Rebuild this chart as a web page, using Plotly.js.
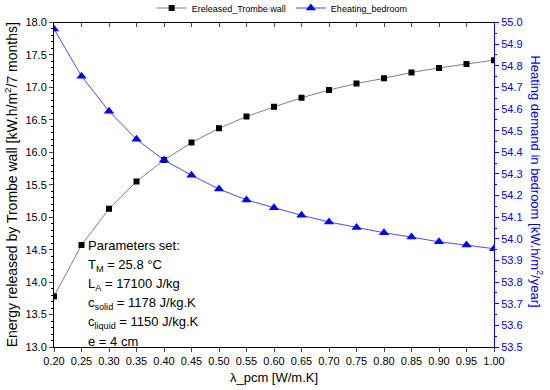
<!DOCTYPE html>
<html><head><meta charset="utf-8">
<script src="https://cdn.plot.ly/plotly-3.0.1.min.js"></script>
<style>html,body{margin:0;padding:0;background:#fff}#c{width:550px;height:390px}</style>
</head><body><div id="c"></div>
<script>
const lambdaPcm = [0.20,0.25,0.30,0.35,0.40,0.45,0.50,0.55,0.60,0.65,0.70,0.75,0.80,0.85,0.90,0.95,1.00];
const eReleased = [13.78,14.57,15.13,15.55,15.88,16.15,16.37,16.55,16.70,16.84,16.96,17.06,17.14,17.23,17.30,17.36,17.42];
const eHeating = [54.97,54.752,54.59,54.46,54.364,54.294,54.23,54.18,54.144,54.109,54.078,54.052,54.028,54.008,53.986,53.971,53.954];
const xTicks = [0.2,0.25,0.3,0.35,0.4,0.45,0.5,0.55,0.6,0.65,0.7,0.75,0.8,0.85,0.9,0.95,1.0];
const paramLines = ["Parameters set:","T<sub>M</sub> = 25.8 °C","L<sub>A</sub> = 17100 J/kg","c<sub>solid</sub> = 1178 J/kg.K","c<sub>liquid</sub> = 1150 J/kg.K","e = 4 cm"];

const font = "Liberation Sans, Arial, sans-serif";
const traces = [
  {x: lambdaPcm, y: eReleased, name: "Ereleased_Trombe wall", mode: "lines+markers",
   line: {color: "#7f7f7f", width: 1}, marker: {symbol: "square", size: 6, color: "#000"}},
  {x: lambdaPcm, y: eHeating, name: "Eheating_bedroom", mode: "lines+markers", yaxis: "y2",
   line: {color: "#4a4aff", width: 1}, marker: {symbol: "triangle-up", size: 9, color: "#0000ff"}},
  {x: [0.2], y: [13], xaxis: "x2", showlegend: false, mode: "none", hoverinfo: "skip"}
];
const lineY = [245, 264.5, 284, 303, 322, 341];
const annots = paramLines.map((t, i) => ({
  xref: "paper", yref: "paper", x: 0.072, y: (347 - lineY[i]) / 327, xanchor: "left", yanchor: "middle", align: "left",
  showarrow: false, text: t, font: {family: font, size: 13, color: "#000"}
}));
annots.push({
  xref: "paper", yref: "paper", x: 1.098, y: 0.51, xanchor: "center", yanchor: "middle", textangle: 90,
  showarrow: false, text: "Heating demand in bedroom [kW.h/m<sup>2</sup>/year]", font: {family: font, size: 13, color: "#0000ff"}
});
const layout = {
  width: 550, height: 390, margin: {l: 54, r: 56, t: 20, b: 43},
  paper_bgcolor: "#fff", plot_bgcolor: "#fff",
  font: {family: font, size: 11, color: "#000"},
  showlegend: true,
  legend: {orientation: "h", xref: "container", yref: "container", x: 0.513, xanchor: "center", y: 1 - 8/390, yanchor: "middle",
           font: {family: font, size: 9}, bgcolor: "rgba(0,0,0,0)", itemwidth: 30, tracegroupgap: 0},
  xaxis: {range: [0.2, 1.0], tickvals: xTicks,
          tickformat: ".2f", ticks: "outside", ticklen: 4, showline: true, linecolor: "#000", linewidth: 1,
          mirror: false, showgrid: false, zeroline: false,
          title: {text: "λ_pcm [W/m.K]", font: {family: font, size: 13}, standoff: 6}},
  xaxis2: {overlaying: "x", side: "top", range: [0.2, 1.0], tickvals: xTicks,
          showticklabels: false, ticks: "inside", ticklen: 4, showline: true, linecolor: "#000", linewidth: 1, showgrid: false, zeroline: false, anchor: "y"},
  yaxis: {range: [13, 18], dtick: 0.5, tickformat: ".1f", ticks: "outside", ticklen: 4, showline: true,
          linecolor: "#000", linewidth: 1, showgrid: false, zeroline: false,
          minor: {dtick: 0.1, ticks: "outside", ticklen: 2, tickcolor: "#000"},
          title: {text: "Energy released by Trombe wall [kW.h/m<sup>2</sup>/7 months]", font: {family: font, size: 14}, standoff: 4}},
  yaxis2: {overlaying: "y", side: "right", range: [53.5, 55], dtick: 0.1, tickformat: ".1f", ticks: "outside", ticklen: 4,
          showline: true, linecolor: "#0000ff", linewidth: 1, tickcolor: "#0000ff", showgrid: false, zeroline: false,
          tickfont: {color: "#0000ff", size: 11, family: font},
          minor: {dtick: 0.05, ticks: "outside", ticklen: 2, tickcolor: "#0000ff"}},
  annotations: annots
};
Plotly.newPlot("c", traces, layout, {staticPlot: true});
</script></body></html>
